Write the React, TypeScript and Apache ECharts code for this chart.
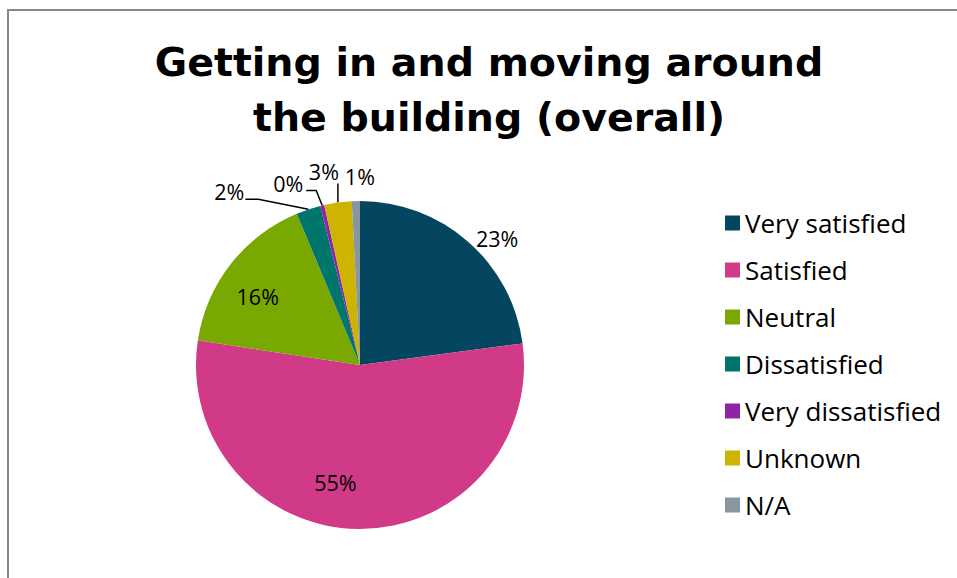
import React, { useEffect, useRef } from "react";
import * as echarts from "echarts";

const categories = [
  "Very satisfied",
  "Satisfied",
  "Neutral",
  "Dissatisfied",
  "Very dissatisfied",
  "Unknown",
  "N/A",
];
const values = [22.9, 54.5, 16.3, 2.4, 0.4, 2.7, 0.8];
const colors = ["#04465F", "#D13A86", "#79A800", "#00756B", "#8E24A8", "#CCB400", "#8896A0"];
const titleText = "Getting in and moving around\nthe building (overall)";

// label placement relative to each slice's outer edge point (styling only)
const labelPlacement: { dx: number; dy: number; align: string; line?: number[][] }[] = [
  { dx: 29, dy: -3, align: "center" },
  { dx: -23, dy: -46, align: "center" },
  { dx: 27, dy: 32, align: "center" },
  { dx: -64, dy: -18, align: "right", line: [[-50, -10], [-63, -10]] },
  { dx: -19, dy: -22, align: "right", line: [[-6, -15], [-16, -15]] },
  { dx: 1, dy: -31, align: "right", line: [[0, -19], [0, -19]] },
  { dx: 4, dy: -25, align: "center" },
];

const FONT = "'Open Sans', 'DejaVu Sans', sans-serif";
const TITLE_FONT = "'DejaVu Sans', sans-serif";

export default function App() {
  const ref = useRef<HTMLDivElement>(null);
  useEffect(() => {
    if (!ref.current) return;
    const chart = echarts.init(ref.current, null, { renderer: "svg" });
    chart.setOption({
      animation: false,
      graphic: [
        {
          type: "rect",
          shape: { x: 8, y: 10, width: 1200, height: 1000 },
          style: { fill: "none", stroke: "#878787", lineWidth: 2 },
          silent: true,
        },
        {
          type: "text",
          x: 489,
          y: 34,
          style: {
            text: titleText,
            textAlign: "center",
            textVerticalAlign: "top",
            font: `bold 39.5px ${TITLE_FONT}`,
            lineHeight: 55,
            fill: "#000",
          },
        },
      ],
      legend: {
        orient: "vertical",
        left: 720,
        top: 205,
        itemWidth: 15,
        itemHeight: 15,
        itemGap: 21,
        itemSpacing: 6,
        icon: "rect",
        data: categories,
        textStyle: { fontSize: 26, lineHeight: 22, color: "#000", fontFamily: FONT },
      },
      series: [
        {
          type: "pie",
          center: [360, 365],
          radius: 164,
          startAngle: 90,
          clockwise: true,
          avoidLabelOverlap: false,
          itemStyle: { borderWidth: 0 },
          label: {
            show: true,
            position: "outside",
            fontSize: 21.5,
            fontFamily: FONT,
            color: "#000",
            formatter: (p: any) => `${Math.round(p.value)}%`,
          },
          labelLine: { show: true, lineStyle: { color: "#000", width: 1.5 } },
          labelLayout: (params: any) => {
            const i = params.dataIndex;
            const pl = labelPlacement[i];
            const pts = params.labelLinePoints;
            if (!pts) return {};
            const p0 = pts[0];
            const out: any = {
              x: p0[0] + pl.dx,
              y: p0[1] + pl.dy,
              align: pl.align,
              verticalAlign: "middle",
            };
            if (pl.line) {
              out.labelLinePoints = [
                [p0[0], p0[1]],
                [p0[0] + pl.line[0][0], p0[1] + pl.line[0][1]],
                [p0[0] + pl.line[1][0], p0[1] + pl.line[1][1]],
              ];
            } else {
              out.labelLinePoints = [
                [p0[0], p0[1]],
                [p0[0], p0[1]],
                [p0[0], p0[1]],
              ];
            }
            return out;
          },
          data: categories.map((name, i) => ({
            name,
            value: values[i],
            itemStyle: { color: colors[i] },
            labelLine: labelPlacement[i].line ? undefined : { lineStyle: { opacity: 0 } },
          })),
        },
      ],
    });
    return () => chart.dispose();
  }, []);
  return (
    <div style={{ position: "fixed", left: 0, top: 0, width: 957, height: 578, background: "#fff" }}>
      <div ref={ref} style={{ width: 957, height: 578 }} />
    </div>
  );
}
